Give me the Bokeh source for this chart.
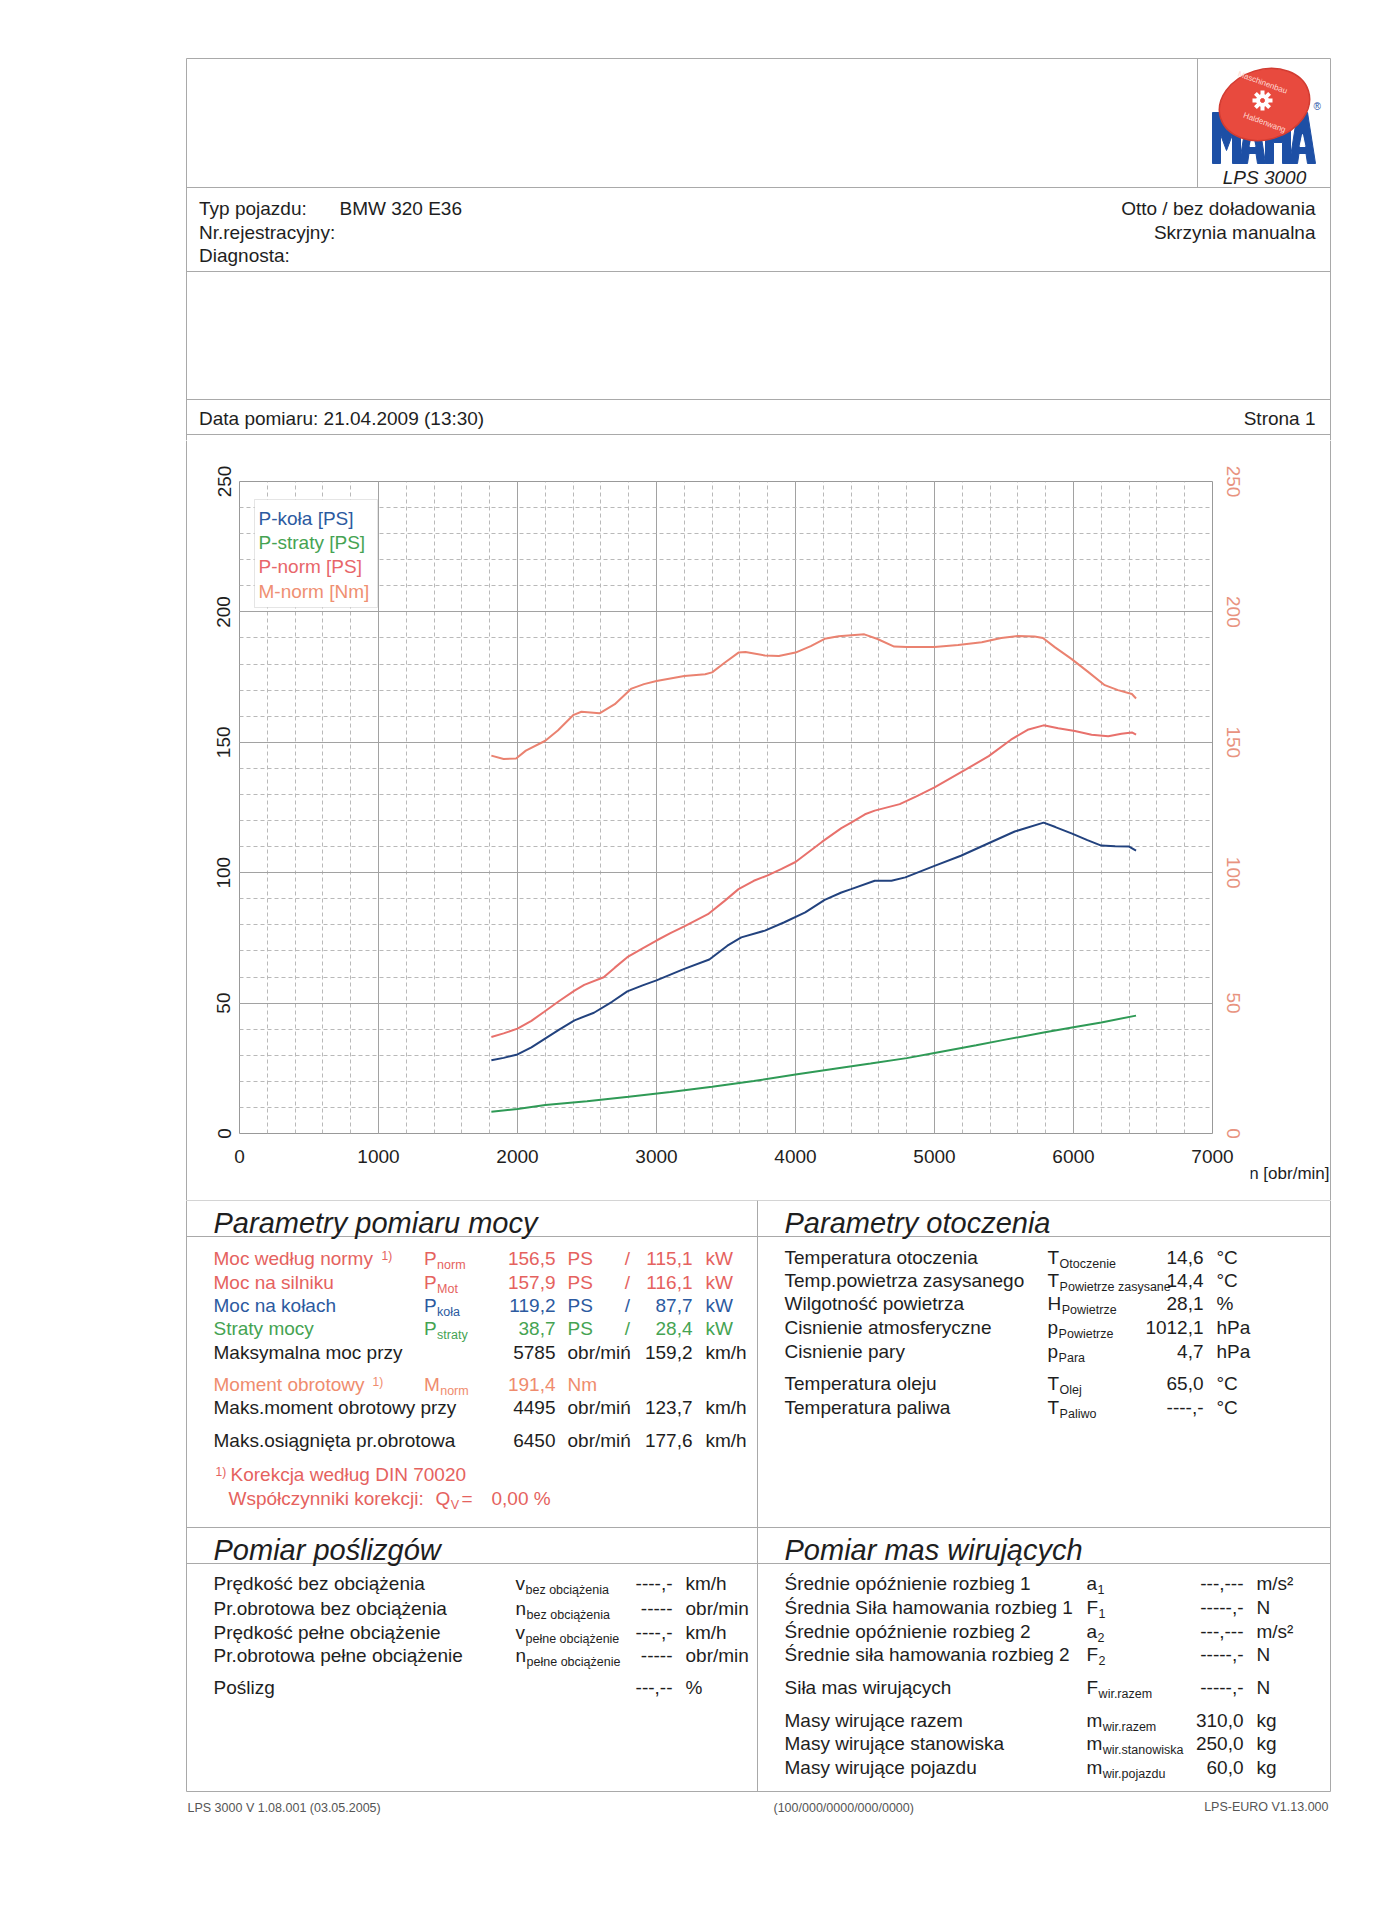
from bokeh.plotting import figure
from bokeh.layouts import column, row
from bokeh.models import (Range1d, LinearAxis, SingleIntervalTicker,
                          Legend, LegendItem, BoxAnnotation, ColumnDataSource)
from bokeh.core.properties import value
from bokeh.embed import file_html
from bokeh.resources import INLINE

FONT = "Liberation Sans"
INK = "#1e1e1e"
RED = "#e5625e"
ORANGE = "#ef8c6e"
BLUE = "#2c5aa0"
GREEN = "#45a352"
LINE = "#a9a9a9"

# ---------------- chart data ----------------
series_names = ["P-koła [PS]", "P-straty [PS]", "P-norm [PS]", "M-norm [Nm]"]

rpm_kola = [1812, 1900, 2000, 2100, 2190, 2300, 2410, 2550, 2680, 2790,
            2900, 3000, 3200, 3380, 3510, 3610, 3780, 3920, 4070, 4210,
            4330, 4400, 4570, 4690, 4790, 5000, 5190, 5385, 5577, 5785,
            5870, 5990, 6100, 6200, 6300, 6400, 6450]
p_kola = [28.1, 29.0, 30.3, 33.0, 36.1, 39.8, 43.4, 46.3, 50.5, 54.5,
          56.8, 58.7, 63.1, 66.7, 72.0, 75.2, 77.8, 81.0, 84.8, 89.6,
          92.4, 93.7, 96.9, 96.9, 98.2, 102.6, 106.5, 111.2, 115.8, 119.2,
          117.5, 115.0, 112.5, 110.4, 110.1, 110.0, 108.5]

rpm_straty = [1812, 2000, 2200, 2500, 2800, 3100, 3400, 3700, 4000, 4330,
              4540, 4800, 5000, 5300, 5500, 5785, 6010, 6200, 6450]
p_straty = [8.3, 9.4, 10.9, 12.4, 14.1, 15.9, 17.9, 20.1, 22.6, 25.2,
            26.8, 28.9, 30.9, 33.8, 35.9, 38.7, 40.8, 42.6, 45.2]

rpm_pnorm = [1812, 1900, 2000, 2100, 2190, 2300, 2410, 2480, 2620, 2700,
             2790, 2900, 3000, 3100, 3200, 3370, 3490, 3590, 3700, 3800,
             3900, 4000, 4190, 4330, 4400, 4500, 4570, 4750, 4870, 5000,
             5220, 5390, 5550, 5670, 5785, 5890, 6010, 6130, 6250, 6345,
             6420, 6450]
p_norm = [37.0, 38.4, 40.2, 43.2, 46.6, 50.8, 54.8, 57.0, 59.9, 63.6,
          67.6, 71.0, 74.0, 76.8, 79.4, 84.1, 89.2, 93.7, 96.9, 99.0,
          101.5, 104.1, 111.8, 117.1, 119.2, 122.4, 123.8, 126.3, 129.3, 132.7,
          139.4, 144.7, 151.0, 154.8, 156.5, 155.4, 154.3, 152.9, 152.3, 153.3,
          153.8, 152.9]

rpm_mnorm = [1812, 1900, 1990, 2060, 2200, 2290, 2400, 2460, 2590, 2700,
             2820, 2910, 3000, 3200, 3350, 3400, 3490, 3590, 3640, 3780,
             3880, 4000, 4110, 4210, 4310, 4495, 4590, 4710, 4800, 5000,
             5170, 5340, 5480, 5600, 5720, 5780, 5865, 5985, 6105, 6225,
             6320, 6420, 6450]
m_norm = [144.9, 143.6, 143.8, 146.8, 150.6, 154.5, 160.4, 161.7, 161.1, 164.6,
          170.6, 172.3, 173.5, 175.4, 176.1, 176.8, 180.5, 184.4, 184.6, 183.3,
          183.1, 184.4, 186.9, 189.7, 190.7, 191.4, 189.6, 186.7, 186.5, 186.5,
          187.3, 188.4, 190.0, 190.8, 190.6, 190.0, 186.5, 182.0, 177.0, 171.9,
          170.0, 168.5, 166.8]

x_axis_max = 7000
y_axis_max = 250
x_axis_title = "n [obr/min]"

# ---------------- report texts ----------------
header_left = ["Typ pojazdu:", "Nr.rejestracyjny:", "Diagnosta:"]
vehicle = "BMW 320 E36"
header_right = ["Otto / bez doładowania", "Skrzynia manualna"]
date_text = "Data pomiaru: 21.04.2009 (13:30)"
page_text = "Strona 1"

power_rows = [
    ("Moc według normy", "1)", "P", "norm", "156,5", "PS", "115,1", "kW", RED),
    ("Moc na silniku", "", "P", "Mot", "157,9", "PS", "116,1", "kW", RED),
    ("Moc na kołach", "", "P", "koła", "119,2", "PS", "87,7", "kW", BLUE),
    ("Straty mocy", "", "P", "straty", "38,7", "PS", "28,4", "kW", GREEN),
    ("Maksymalna moc przy", "", "", "", "5785", "obr/miń", "159,2", "km/h", INK),
    ("Moment obrotowy", "1)", "M", "norm", "191,4", "Nm", "", "", ORANGE),
    ("Maks.moment obrotowy przy", "", "", "", "4495", "obr/miń", "123,7", "km/h", INK),
    ("Maks.osiągnięta pr.obrotowa", "", "", "", "6450", "obr/miń", "177,6", "km/h", INK),
]
ambient_rows = [
    ("Temperatura otoczenia", "T", "Otoczenie", "14,6", "°C"),
    ("Temp.powietrza zasysanego", "T", "Powietrze zasysane", "14,4", "°C"),
    ("Wilgotność powietrza", "H", "Powietrze", "28,1", "%"),
    ("Cisnienie atmosferyczne", "p", "Powietrze", "1012,1", "hPa"),
    ("Cisnienie pary", "p", "Para", "4,7", "hPa"),
    ("Temperatura oleju", "T", "Olej", "65,0", "°C"),
    ("Temperatura paliwa", "T", "Paliwo", "----,-", "°C"),
]
slip_rows = [
    ("Prędkość bez obciążenia", "v", "bez obciążenia", "----,-", "km/h"),
    ("Pr.obrotowa bez obciążenia", "n", "bez obciążenia", "-----", "obr/min"),
    ("Prędkość pełne obciążenie", "v", "pełne obciążenie", "----,-", "km/h"),
    ("Pr.obrotowa pełne obciążenie", "n", "pełne obciążenie", "-----", "obr/min"),
    ("Poślizg", "", "", "---,--", "%"),
]
mass_rows = [
    ("Średnie opóźnienie rozbieg 1", "a", "1", "---,---", "m/s²"),
    ("Średnia Siła hamowania rozbieg 1", "F", "1", "-----,-", "N"),
    ("Średnie opóźnienie rozbieg 2", "a", "2", "---,---", "m/s²"),
    ("Średnie siła hamowania rozbieg 2", "F", "2", "-----,-", "N"),
    ("Siła mas wirujących", "F", "wir.razem", "-----,-", "N"),
    ("Masy wirujące razem", "m", "wir.razem", "310,0", "kg"),
    ("Masy wirujące stanowiska", "m", "wir.stanowiska", "250,0", "kg"),
    ("Masy wirujące pojazdu", "m", "wir.pojazdu", "60,0", "kg"),
]
footers = ["LPS 3000 V 1.08.001 (03.05.2005)", "(100/000/0000/000/0000)", "LPS-EURO V1.13.000"]

# ---------------- helpers ----------------
def page_fig(x0, x1, y0, y1):
    f = figure(width=x1 - x0, height=y1 - y0, x_range=Range1d(x0, x1), y_range=Range1d(y1, y0),
               x_axis_location=None, y_axis_location=None, output_backend="svg",
               toolbar_location=None, min_border=0)
    f.grid.visible = False
    f.outline_line_color = None
    f.background_fill_color = "white"
    f.border_fill_color = "white"
    f.frame_align = False
    return f


class Writer:
    def __init__(self, fig):
        self.fig = fig
        self.groups = {}

    def __call__(self, x, y, s, size=19, color=INK, align="left", style="normal",
                 angle=0.0, baseline="middle", font=FONT):
        key = (size, color, align, style, angle, baseline, font)
        g = self.groups.setdefault(key, {"x": [], "y": [], "text": []})
        g["x"].append(x)
        g["y"].append(y)
        g["text"].append(s)

    def flush(self):
        for (size, color, align, style, angle, baseline, font), g in self.groups.items():
            self.fig.text(x="x", y="y", text="text", source=ColumnDataSource(g),
                          text_font=value(font), text_font_size=f"{size}px",
                          text_color=color, text_align=align, text_baseline=baseline,
                          text_font_style=style, angle=angle)


def lines(f, segs, color=LINE, width=1):
    f.segment(x0=[s[0] for s in segs], y0=[s[1] for s in segs],
              x1=[s[2] for s in segs], y1=[s[3] for s in segs],
              line_color=color, line_width=width)


W19 = {"P": 12.7, "T": 11.6, "H": 13.7, "p": 10.6, "M": 15.8, "v": 9.5,
       "n": 10.6, "a": 10.6, "F": 11.6, "m": 15.8, "Q": 14.8}


def sym(w, x, y, main, sub, color=INK):
    if not main:
        return
    w(x, y, main, color=color)
    if sub:
        w(x + W19[main] + 0.5, y + 6, sub, size=12.5, color=color)


L, R = 186, 1330

# ---------------- header ----------------
hdr = page_fig(0, 1388, 0, 440)
lines(hdr, [(L, 58, R, 58), (L, 187, R, 187), (L, 271, R, 271), (L, 399, R, 399),
            (L, 434, R, 434), (L, 58, L, 440), (R, 58, R, 440), (1197, 58, 1197, 187)])
blue = "#1d4fa5"
t, b = 112, 163
def M_(x0):
    return [x0, x0, x0 + 9, x0 + 14, x0 + 19, x0 + 28, x0 + 28, x0 + 20, x0 + 20, x0 + 14, x0 + 8, x0 + 8], \
           [b, t, t, t + 18, t, t, b, b, t + 22, t + 38, t + 22, b]
def A_(x0):
    return [x0, x0 + 8, x0 + 18, x0 + 26, x0 + 18, x0 + 16.5, x0 + 9.5, x0 + 8], \
           [b, t, t, b, b, b - 10, b - 10, b]
def H_(x0):
    return [x0, x0, x0 + 8, x0 + 8, x0 + 17, x0 + 17, x0 + 25, x0 + 25, x0 + 17, x0 + 17, x0 + 8, x0 + 8], \
           [b, t, t, t + 18, t + 18, t, t, b, b, t + 30, t + 30, b]
shapes = [M_(1212), A_(1239), H_(1265), A_(1289)]
hdr.patches(xs=[s[0] for s in shapes], ys=[s[1] for s in shapes], fill_color=blue, line_color=blue)
hdr.patches(xs=[[1249.5, 1252, 1254.5], [1299.5, 1302, 1304.5]], ys=[[b - 17, t + 22, b - 17]] * 2,
            fill_color="white", line_color="white")
hdr.ellipse(x=[1264], y=[104], width=92, height=70, angle=0.3,
            fill_color="#e84a3e", line_color="#d23c32", line_width=1.5)
hdr.scatter(x=[1262], y=[100], marker="asterisk", size=20, line_color="white", line_width=4)
hdr.scatter(x=[1262], y=[100], marker="circle", size=12, fill_color="white", line_color="white")
hdr.scatter(x=[1262], y=[100], marker="circle", size=4, fill_color="#e84a3e", line_color="#e84a3e")

hw = Writer(hdr)
hw(1262, 82, "Maschinenbau", size=8, color="#ffd9d4", align="center", angle=-0.35)
hw(1264, 122, "Haldenwang", size=8, color="#ffd9d4", align="center", angle=-0.35)
hw(1313, 106, "®", size=10, color=blue, align="left")
hw(1264, 177, "LPS 3000", size=19, style="italic", align="center")
for i, s in enumerate(header_left):
    hw(198.5, [208, 232, 255][i], s)
hw(339, 208, vehicle)
for i, s in enumerate(header_right):
    hw(1315, [208, 232][i], s, align="right")
hw(198.5, 418, date_text)
hw(1315, 418, page_text, align="right")
hw.flush()

# ---------------- chart ----------------
left_pad = page_fig(0, 200, 440, 1200)
lines(left_pad, [(L, 440, L, 1200)])
right_pad = page_fig(1250, 1388, 440, 1200)
lines(right_pad, [(R, 440, R, 1200)])
rw = Writer(right_pad)
rw(1329, 1173, x_axis_title, size=17, align="right")
rw.flush()

p = figure(width=1050, height=760, x_range=Range1d(0, x_axis_max), y_range=Range1d(0, y_axis_max),
           output_backend="svg", toolbar_location=None,
           min_border_left=39, min_border_right=38, min_border_top=41, min_border_bottom=67)
p.frame_align = False
p.background_fill_color = "white"
p.border_fill_color = "white"
p.outline_line_color = "#999999"

p.xaxis.ticker = SingleIntervalTicker(interval=1000, num_minor_ticks=5)
p.yaxis.ticker = SingleIntervalTicker(interval=50, num_minor_ticks=5)
ax_r = LinearAxis(ticker=SingleIntervalTicker(interval=50, num_minor_ticks=5))
p.add_layout(ax_r, "right")

for ax in p.axis:
    ax.axis_line_color = None
    ax.major_tick_line_color = None
    ax.minor_tick_line_color = None
    ax.major_tick_out = 0
    ax.major_tick_in = 0
    ax.minor_tick_out = 0
    ax.major_label_text_font = FONT
    ax.major_label_text_font_size = "19px"
    ax.major_label_text_color = INK
p.xaxis.major_label_standoff = 16
for ax in p.yaxis:
    ax.major_label_orientation = "vertical"
p.yaxis[0].major_label_standoff = 9
ax_r.major_label_standoff = 14
ax_r.major_label_text_color = "#e8937f"

for g in (p.xgrid, p.ygrid):
    g.grid_line_color = "#a2a2a2"
    g.grid_line_width = 1
    g.minor_grid_line_color = "#b9b9b9"
    g.minor_grid_line_dash = "4 3"

r_kola = p.line(rpm_kola, p_kola, line_color="#22427e", line_width=2)
r_straty = p.line(rpm_straty, p_straty, line_color="#2f9a56", line_width=2)
r_pnorm = p.line(rpm_pnorm, p_norm, line_color="#e8716c", line_width=2)
r_mnorm = p.line(rpm_mnorm, m_norm, line_color="#ea8270", line_width=2)

p.add_layout(BoxAnnotation(left=15, right=138, bottom=526, top=634,
                           left_units="screen", right_units="screen",
                           top_units="screen", bottom_units="screen",
                           fill_color="white", fill_alpha=1.0,
                           line_color="#a8a8a8", line_width=1))
legend_colors = [BLUE, GREEN, "#e8666a", "#ef8f72"]
legend_vy = [602, 578.5, 554, 529.5]
for name, rend, col, vy in zip(series_names, [r_kola, r_straty, r_pnorm, r_mnorm], legend_colors, legend_vy):
    lg = Legend(items=[LegendItem(label=name, renderers=[rend])], location=(19.5, vy),
                glyph_width=0, glyph_height=24, label_height=24, label_standoff=0,
                padding=0, spacing=0, margin=0, border_line_color=None,
                background_fill_alpha=0.0, label_text_color=col,
                label_text_font=FONT, label_text_font_size="19px")
    p.add_layout(lg)

# ---------------- tables ----------------
bot = page_fig(0, 1388, 1200, 1912)
lines(bot, [(L, 1200, R, 1200), (L, 1236, R, 1236), (L, 1527, R, 1527), (L, 1563, R, 1563),
            (L, 1791, R, 1791), (L, 1200, L, 1791), (R, 1200, R, 1791), (757, 1200, 757, 1791)])
bw = Writer(bot)
bw(213, 1222, "Parametry pomiaru mocy", size=29, style="italic", baseline="alphabetic")
bw(784, 1222, "Parametry otoczenia", size=29, style="italic", baseline="alphabetic")
bw(213, 1549, "Pomiar poślizgów", size=29, style="italic", baseline="alphabetic")
bw(784, 1549, "Pomiar mas wirujących", size=29, style="italic", baseline="alphabetic")

power_y = [1258, 1282, 1305, 1328, 1352, 1384, 1407, 1440]
sup_x = [381, 0, 0, 0, 0, 372, 0, 0]
for i, (lab, sup, m, sub, v1, u1, v2, u2, col) in enumerate(power_rows):
    y = power_y[i]
    bw(213, y, lab, color=col)
    if sup:
        bw(sup_x[i], y - 3, sup, size=12, color=col)
    sym(bw, 423.4, y, m, sub, col)
    bw(555, y, v1, color=col, align="right")
    bw(567, y, u1, color=col)
    if u1 == "PS":
        bw(627, y, "/", color=col, align="center")
    if v2:
        bw(692, y, v2, color=col, align="right")
        bw(705, y, u2, color=col)
bw(215, 1471, "1)", size=12, color=RED)
bw(230, 1474, "Korekcja według DIN 70020", color=RED)
bw(228, 1498, "Współczynniki korekcji:", color=RED)
sym(bw, 435, 1498, "Q", "V", RED)
bw(461, 1498, "=", color=RED)
bw(491, 1498, "0,00 %", color=RED)

ambient_y = [1257, 1280, 1303, 1327, 1351, 1383, 1407]
for i, (lab, m, sub, v, u) in enumerate(ambient_rows):
    y = ambient_y[i]
    bw(784, y, lab)
    sym(bw, 1047, y, m, sub)
    bw(1203, y, v, align="right")
    bw(1216, y, u)

slip_y = [1583, 1608, 1632, 1655, 1687]
for i, (lab, m, sub, v, u) in enumerate(slip_rows):
    y = slip_y[i]
    bw(213, y, lab)
    sym(bw, 515, y, m, sub)
    bw(672, y, v, align="right")
    bw(685, y, u)

mass_y = [1583, 1607, 1631, 1654, 1687, 1720, 1743, 1767]
for i, (lab, m, sub, v, u) in enumerate(mass_rows):
    y = mass_y[i]
    bw(784, y, lab)
    sym(bw, 1086, y, m, sub)
    bw(1243, y, v, align="right")
    bw(1256, y, u)

bw(187, 1807, footers[0], size=12.5, color="#555555")
bw(773, 1807, footers[1], size=12.5, color="#555555")
bw(1328, 1806, footers[2], size=12.5, color="#555555", align="right")
bw.flush()

layout = column(hdr, row(left_pad, p, right_pad), bot)
open("out.html", "w").write(file_html(layout, INLINE))
